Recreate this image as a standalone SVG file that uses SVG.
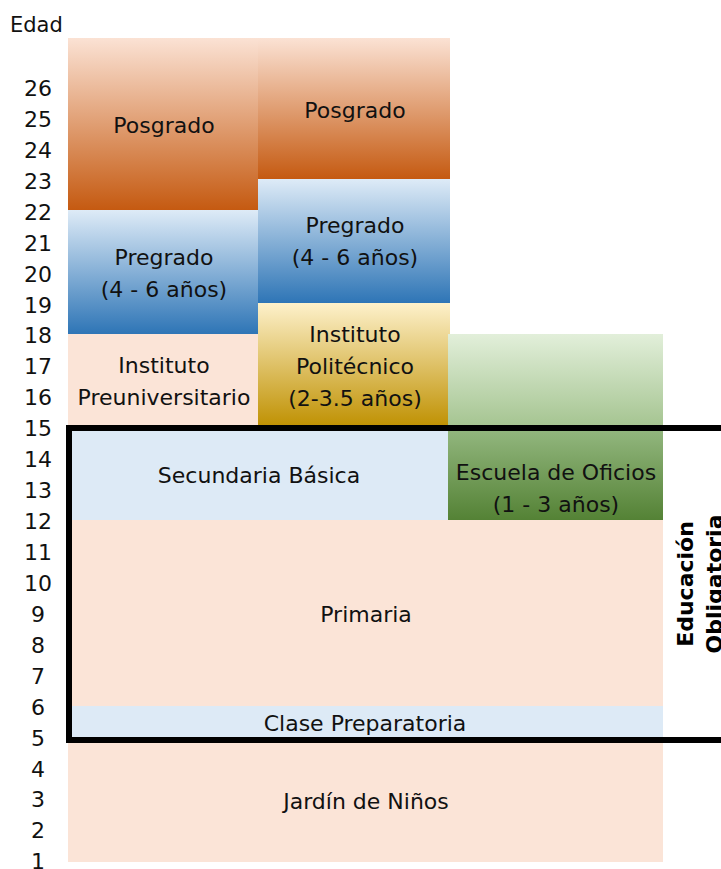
<svg xmlns="http://www.w3.org/2000/svg" width="721" height="869" viewBox="0 0 721 869">
<style>
text{font-family:"DejaVu Sans","Liberation Sans",sans-serif;font-size:22px;fill:#111}
.age{text-anchor:middle}
.lbl{text-anchor:middle}
.peach{fill:#fbe4d7}
.blue{fill:#ddeaf6}
.vt{font-weight:bold;text-anchor:middle;fill:#000}
</style>
<defs>
<linearGradient id="gOrange" x1="0" y1="0" x2="0" y2="1"><stop offset="0" stop-color="#fbe2d4"/><stop offset="1" stop-color="#c55a11"/></linearGradient>
<linearGradient id="gBlue" x1="0" y1="0" x2="0" y2="1"><stop offset="0" stop-color="#deebf7"/><stop offset="1" stop-color="#2e75b6"/></linearGradient>
<linearGradient id="gGold" x1="0" y1="0" x2="0" y2="1"><stop offset="0" stop-color="#fdf1cb"/><stop offset="1" stop-color="#bf9000"/></linearGradient>
<linearGradient id="gGreen" gradientUnits="userSpaceOnUse" x1="0" y1="334" x2="0" y2="520"><stop offset="0" stop-color="#e2efda"/><stop offset="0.49" stop-color="#a6c592"/><stop offset="0.51" stop-color="#93b77f"/><stop offset="1" stop-color="#548235"/></linearGradient>
</defs>

<g id="axis">
<text x="10" y="32" style="font-size:21px">Edad</text>
<text class="age" x="38" y="96">26</text>
<text class="age" x="38" y="126.9">25</text>
<text class="age" x="38" y="157.9">24</text>
<text class="age" x="38" y="188.8">23</text>
<text class="age" x="38" y="219.7">22</text>
<text class="age" x="38" y="250.7">21</text>
<text class="age" x="38" y="281.6">20</text>
<text class="age" x="38" y="312.5">19</text>
<text class="age" x="38" y="343.4">18</text>
<text class="age" x="38" y="374.4">17</text>
<text class="age" x="38" y="405.3">16</text>
<text class="age" x="38" y="436.2">15</text>
<text class="age" x="38" y="467.2">14</text>
<text class="age" x="38" y="498.1">13</text>
<text class="age" x="38" y="529">12</text>
<text class="age" x="38" y="560">11</text>
<text class="age" x="38" y="590.9">10</text>
<text class="age" x="38" y="621.8">9</text>
<text class="age" x="38" y="652.7">8</text>
<text class="age" x="38" y="683.7">7</text>
<text class="age" x="38" y="714.6">6</text>
<text class="age" x="38" y="745.5">5</text>
<text class="age" x="38" y="776.5">4</text>
<text class="age" x="38" y="807.4">3</text>
<text class="age" x="38" y="838.3">2</text>
<text class="age" x="38" y="869.3">1</text>
</g>

<g id="posgrado1"><rect x="68" y="38" width="190" height="172" fill="url(#gOrange)"/><text class="lbl" x="164" y="133">Posgrado</text></g>
<g id="posgrado2"><rect x="258" y="38" width="192" height="141" fill="url(#gOrange)"/><text class="lbl" x="355" y="118">Posgrado</text></g>
<g id="pregrado1"><rect x="68" y="210" width="190" height="124" fill="url(#gBlue)"/><text class="lbl" x="164" y="265">Pregrado</text><text class="lbl" x="164" y="297">(4 - 6 años)</text></g>
<g id="pregrado2"><rect x="258" y="179" width="192" height="124" fill="url(#gBlue)"/><text class="lbl" x="355" y="233">Pregrado</text><text class="lbl" x="355" y="265">(4 - 6 años)</text></g>
<g id="preuniversitario"><rect class="peach" x="68" y="334" width="190" height="94"/><text class="lbl" x="164" y="373">Instituto</text><text class="lbl" x="164" y="405">Preuniversitario</text></g>
<g id="politecnico"><rect x="258" y="303" width="192" height="125" fill="url(#gGold)"/><text class="lbl" x="355" y="342">Instituto</text><text class="lbl" x="355" y="374">Politécnico</text><text class="lbl" x="355" y="406">(2-3.5 años)</text></g>
<g id="verde"><rect x="448" y="334" width="215" height="96" fill="url(#gGreen)"/></g>
<g id="secundaria"><rect class="blue" x="68" y="428" width="380" height="92"/><text class="lbl" x="259" y="483">Secundaria Básica</text></g>
<g id="oficios"><rect x="448" y="428" width="215" height="92" fill="url(#gGreen)"/><text class="lbl" x="556" y="480">Escuela de Oficios</text><text class="lbl" x="556" y="512">(1 - 3 años)</text></g>
<g id="primaria"><rect class="peach" x="68" y="520" width="595" height="186"/><text class="lbl" x="366" y="622">Primaria</text></g>
<g id="preparatoria"><rect class="blue" x="68" y="706" width="595" height="34"/><text class="lbl" x="365" y="731">Clase Preparatoria</text></g>
<g id="jardin"><rect class="peach" x="68" y="740" width="595" height="122"/><text class="lbl" x="366" y="809">Jardín de Niños</text></g>

<g id="obligatoria">
<rect x="69" y="428" width="700" height="312" fill="none" stroke="#000" stroke-width="6"/>
<text class="vt" transform="translate(693,584) rotate(-90)">Educación</text>
<text class="vt" transform="translate(722,584) rotate(-90)">Obligatoria</text>
</g>
</svg>
